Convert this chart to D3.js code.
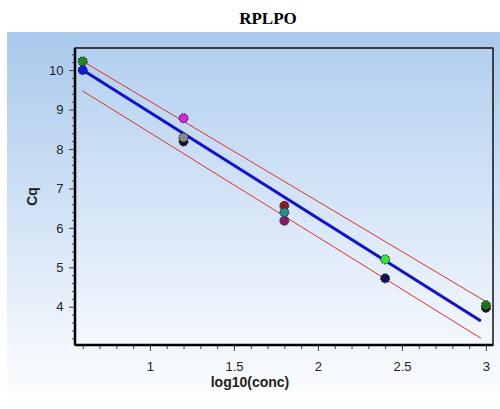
<!DOCTYPE html>
<html><head><meta charset="utf-8">
<script src="https://cdn.jsdelivr.net/npm/d3@7"></script>
<style>body{margin:0;background:#fff}svg{display:block}</style>
</head><body>
<svg id="c" width="500" height="409"></svg>
<script>
const title = "RPLPO";
const xLabel = "log10(conc)";
const yLabel = "Cq";
const xTicks = [1, 1.5, 2, 2.5, 3];
const yTicks = [4, 5, 6, 7, 8, 9, 10];
// points (drawing order matters for overlaps)
const pointX = [0.6, 0.6, 1.2, 1.2, 1.2, 1.8, 1.8, 1.8, 2.4, 2.4, 3.0, 3.0];
const pointY = [10.22, 10.0, 8.78, 8.19, 8.29, 6.56, 6.18, 6.39, 5.20, 4.72, 3.97, 4.04];
const pointColor = ["#1e8a1e", "#1515e0", "#e020e0", "#151515", "#888888", "#8b1c1c", "#8a1a70", "#1a9088", "#33e633", "#10105e", "#10104a", "#177a17"];
// regression line and confidence bounds (x, y endpoints)
const fitX = [0.6, 2.97];
const fitY = [10.0, 3.64];
const upperX = [0.57, 3.0];
const upperY = [10.30, 4.13];
const lowerX = [0.6, 2.97];
const lowerY = [9.47, 3.20];

const svg = d3.select("#c");
const defs = svg.append("defs");
const g1 = defs.append("linearGradient").attr("id","bg").attr("x1",0).attr("y1",0).attr("x2",0).attr("y2",1);
g1.append("stop").attr("offset","0%").attr("stop-color","#a9c9ec");
g1.append("stop").attr("offset","100%").attr("stop-color","#ffffff");
const g2 = defs.append("linearGradient").attr("id","pbg").attr("x1",0).attr("y1",0).attr("x2",0).attr("y2",1);
g2.append("stop").attr("offset","0%").attr("stop-color","#b3d0f0");
g2.append("stop").attr("offset","100%").attr("stop-color","#f4f8fd");

svg.append("rect").attr("x",7).attr("y",32).attr("width",493).attr("height",377).attr("fill","url(#bg)");

svg.append("text").attr("x",268).attr("y",24).attr("text-anchor","middle")
  .attr("font-family","Liberation Serif").attr("font-weight","bold").attr("font-size",17).text(title);

const L = 75, R = 493, T = 48, B = 345;
const x = d3.scaleLinear().domain([0.554, 3.042]).range([L, R]);
const y = d3.scaleLinear().domain([3.03, 10.56]).range([B, T]);

svg.append("rect").attr("x",L).attr("y",T).attr("width",R-L).attr("height",B-T).attr("fill","url(#pbg)");

const fontAx = "Liberation Sans";
const xAxis = svg.append("g").attr("transform",`translate(0,${B})`)
  .call(d3.axisBottom(x).tickValues(xTicks).tickFormat(d3.format("")).tickSize(6));
const xMinor = svg.append("g").attr("transform",`translate(0,${B})`)
  .call(d3.axisBottom(x).tickValues(d3.range(6,31).map(d=>d/10).filter(d=>Math.abs(d*2-Math.round(d*2))>1e-6)).tickFormat("").tickSize(4));
const yAxis = svg.append("g").attr("transform",`translate(${L},0)`)
  .call(d3.axisLeft(y).tickValues(yTicks).tickFormat(d3.format("")).tickSize(6));
const yMinor = svg.append("g").attr("transform",`translate(${L},0)`)
  .call(d3.axisLeft(y).tickValues(d3.range(32,106,2).map(d=>d/10).filter(d=>Math.abs(d-Math.round(d))>1e-6)).tickFormat("").tickSize(3));
[xAxis,xMinor,yAxis,yMinor].forEach(a=>{
  a.select(".domain").remove();
  a.selectAll("line").attr("stroke","#444");
  a.selectAll("text").attr("font-family",fontAx).attr("font-size",13).attr("fill","#222");
});
xAxis.selectAll("text").attr("dy","1.3em");
yAxis.selectAll("text").attr("dx","-0.2em");

svg.append("text").attr("x",(L+R)/2-34).attr("y",387).attr("text-anchor","middle")
  .attr("font-family",fontAx).attr("font-weight","bold").attr("font-size",14).attr("fill","#222").text(xLabel);
svg.append("text").attr("transform",`translate(37,${(T+B)/2}) rotate(-90)`).attr("text-anchor","middle")
  .attr("font-family",fontAx).attr("font-weight","bold").attr("font-size",14).attr("fill","#222").text(yLabel);

const line = d3.line().x(d=>x(d[0])).y(d=>y(d[1]));
svg.append("path").attr("d",line(d3.zip(upperX,upperY))).attr("stroke","#e03020").attr("stroke-width",1).attr("fill","none");
svg.append("path").attr("d",line(d3.zip(lowerX,lowerY))).attr("stroke","#e03020").attr("stroke-width",1).attr("fill","none");
svg.append("path").attr("d",line(d3.zip(fitX,fitY))).attr("stroke","#1010dd").attr("stroke-width",3).attr("fill","none");

svg.append("g").selectAll("circle").data(d3.range(pointX.length)).join("circle")
  .attr("cx",i=>x(pointX[i])).attr("cy",i=>y(pointY[i])).attr("r",4.5)
  .attr("fill",i=>pointColor[i]).attr("stroke","#222").attr("stroke-width",1).attr("stroke-dasharray","2,1");

svg.append("rect").attr("x",L).attr("y",T).attr("width",R-L).attr("height",B-T)
  .attr("fill","none").attr("stroke","#111").attr("stroke-width",1.5);
svg.append("line").attr("x1",L).attr("x2",L).attr("y1",T).attr("y2",B).attr("stroke","#000").attr("stroke-width",2.5);
svg.append("line").attr("x1",L).attr("x2",R).attr("y1",B).attr("y2",B).attr("stroke","#000").attr("stroke-width",2.5);
</script>
</body></html>
